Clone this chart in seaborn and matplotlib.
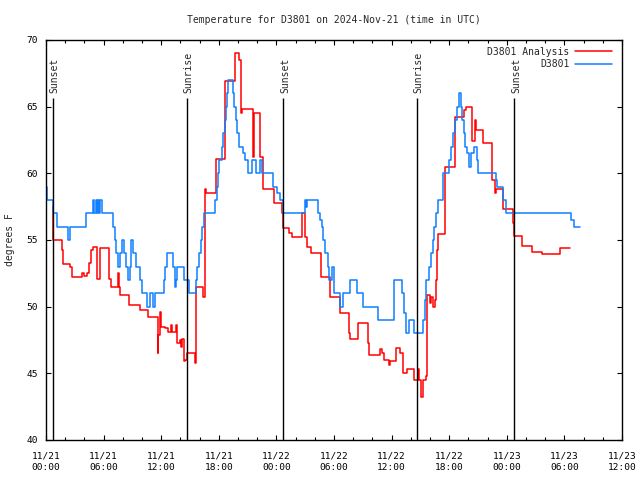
import matplotlib
matplotlib.use("Agg")
import matplotlib.pyplot as plt
import seaborn as sns
import pandas as pd

# ---------------- data (hours since 2024-11-21 00:00 UTC) ----------------
analysis_t = [0.69, 0.72, 1.63, 1.74, 2.5, 2.74, 3.72, 4.0, 4.3, 4.51, 4.69, 4.86, 5.28, 5.63,
              6.55, 6.74, 7.5, 7.6, 7.71, 8.68, 9.79, 10.66, 11.63, 11.7, 11.9, 11.98, 12.4,
              12.74, 13.0, 13.1, 13.5, 13.6, 13.68, 13.96, 14.1, 14.2, 14.37, 14.48, 14.72,
              15.52, 15.63, 16.39, 16.56, 16.67, 17.67, 18.65, 19.69, 20.14, 20.3, 20.38,
              21.53, 21.65, 22.29, 22.64, 23.8, 24.55, 24.68, 25.35, 25.6, 26.63, 27.0,
              27.15, 27.62, 28.65, 29.55, 30.66, 31.55, 31.65, 32.55, 33.5, 33.65, 34.75,
              35.05, 35.25, 35.7, 35.8, 36.5, 36.9, 37.2, 37.6, 38.3, 38.7, 38.9, 39.1, 39.3,
              39.55, 39.65, 40.0, 40.1, 40.3, 40.5, 40.6, 40.69, 40.8, 41.53, 42.56, 43.55,
              43.75, 44.4, 44.7, 44.82, 45.5, 46.5, 46.72, 46.85, 47.65, 48.65, 48.72, 49.6,
              50.65, 51.7, 53.55, 54.6]
analysis_v = [57.5, 55.0, 54.25, 53.2, 53.0, 52.25, 52.5, 52.3, 52.5, 53.3, 54.25, 54.5, 52.1, 54.4,
              52.1, 51.45, 52.5, 51.45, 50.9, 50.1, 49.75, 49.2, 46.55, 47.9, 49.6, 48.5, 48.4,
              48.1, 48.6, 48.1, 48.6, 48.1, 47.25, 47.5, 47.0, 47.6, 45.9, 46.0, 46.55,
              45.8, 51.5, 50.75, 58.8, 58.5, 61.05, 66.9, 69.05, 68.5, 64.5, 64.8,
              61.25, 64.55, 61.2, 58.8, 57.75, 57.0, 55.9, 55.5, 55.25, 57.0, 55.2,
              54.45, 54.0, 52.2, 50.7, 49.5, 48.0, 47.6, 48.8, 47.25, 46.35, 46.85,
              46.5, 46.0, 45.6, 45.9, 46.9, 46.5, 45.0, 45.3, 44.5, 45.3, 44.5, 43.25, 44.5,
              44.8, 50.9, 50.3, 50.75, 50.0, 50.5, 52.0, 54.25, 55.45, 60.45, 64.25, 64.75,
              65.0, 62.4, 64.0, 63.25, 62.25, 59.5, 58.5, 58.8, 57.3, 56.25, 55.3, 54.55,
              54.1, 53.95, 54.4, 54.4]

station_t = [0.0, 0.14, 0.76, 1.11, 2.33, 2.5, 4.17, 4.93, 5.05, 5.2, 5.3, 5.4, 5.5, 5.63, 5.85,
             6.97, 7.15, 7.3, 7.5, 7.7, 7.95, 8.15, 8.35, 8.55, 8.7, 8.85, 9.1, 9.35, 9.75,
             9.97, 10.56, 10.8, 11.1, 11.35, 12.26, 12.4, 12.6, 13.22, 13.4, 13.55, 13.68,
             14.4, 14.9, 15.65, 15.75, 15.9, 16.1, 16.3, 16.5, 17.65, 17.8, 17.9, 18.05,
             18.3, 18.45, 18.6, 18.7, 18.85, 19.0, 19.45, 19.6, 19.75, 19.9, 20.1, 20.55,
             20.75, 21.05, 21.5, 21.85, 22.33, 22.5, 23.65, 24.1, 24.35, 24.72, 26.98, 27.1,
             27.2, 28.3, 28.5, 28.7, 28.9, 29.05, 29.4, 29.5, 29.75, 30.05, 30.6, 30.95,
             31.7, 32.4, 33.0, 34.62, 36.3, 37.1, 37.3, 37.5, 37.85, 38.3, 39.3, 39.5, 39.62,
             39.9, 40.1, 40.3, 40.45, 40.6, 40.8, 41.4, 41.95, 42.2, 42.4, 42.65, 42.85,
             43.0, 43.25, 43.35, 43.5, 43.65, 43.85, 44.05, 44.25, 44.55, 44.9, 45.05,
             46.85, 47.0, 47.65, 47.95, 54.7, 55.0, 55.6]
station_v = [59, 58, 57, 56, 55, 56, 57, 58, 57, 58, 57, 58, 57, 58, 57,
             56, 55, 54, 53, 54, 55, 54, 53, 52, 53, 55, 54, 53, 52,
             51, 50, 51, 50, 51, 52, 53, 54, 53, 51.5, 52, 53,
             52, 51, 52, 53, 54, 55, 56, 57, 58, 59, 60, 61,
             62, 63, 64, 65, 66, 67, 66, 65, 64, 63, 62, 61.5,
             61, 60, 61, 60, 61, 60, 59, 58.5, 58, 57, 58, 57.5,
             58, 57, 56.5, 56, 55, 54, 53, 52, 53, 51, 50, 51,
             52, 51, 50, 49, 52, 51, 49.5, 48, 49, 48, 49, 50.5, 52,
             53, 54, 55, 56, 57, 58, 60, 61, 62, 63, 64, 65,
             66, 65, 64, 63, 62, 61.5, 60.5, 61.5, 62, 61, 60,
             59.5, 59, 58, 57, 56.5, 56, 56]

event_t = [0.70, 14.66, 24.70, 38.60, 48.75]
event_labels = ["Sunset", "Sunrise", "Sunset", "Sunrise", "Sunset"]

xtick_pos = [0, 6, 12, 18, 24, 30, 36, 42, 48, 54, 60]
xtick_labels = ["11/21\n00:00", "11/21\n06:00", "11/21\n12:00", "11/21\n18:00",
                "11/22\n00:00", "11/22\n06:00", "11/22\n12:00", "11/22\n18:00",
                "11/23\n00:00", "11/23\n06:00", "11/23\n12:00"]
ytick_pos = [40, 45, 50, 55, 60, 65, 70]

title = "Temperature for D3801 on 2024-Nov-21 (time in UTC)"

# ---------------- plot ----------------
sns.set_style("ticks")
plt.rcParams["font.family"] = ["DejaVu Sans Mono", "DejaVu Sans"]

fig = plt.figure(figsize=(6.4, 4.8), dpi=100)
ax = fig.add_axes([46 / 640, 40 / 480, 576 / 640, 400 / 480])

df_a = pd.DataFrame({"t": analysis_t, "v": analysis_v})
df_s = pd.DataFrame({"t": station_t, "v": station_v})

sns.lineplot(data=df_a, x="t", y="v", ax=ax, color="#ff0000", lw=1.1,
             drawstyle="steps-post", estimator=None, label="D3801 Analysis")
sns.lineplot(data=df_s, x="t", y="v", ax=ax, color="#1080ff", lw=1.1,
             drawstyle="steps-post", estimator=None, label="D3801")

ax.vlines(event_t, 40, 65.65, colors="black", lw=1.0)
for t, lbl in zip(event_t, event_labels):
    ax.text(t + 0.2, 66.05, lbl, rotation=90, ha="center", va="bottom", fontsize=7)

ax.set_xlim(0, 60)
ax.set_ylim(40, 70)
ax.set_xticks(xtick_pos)
ax.set_xticklabels(xtick_labels, fontsize=6.8)
for l in ax.get_xticklabels():
    l.set_linespacing(1.45)
ax.set_xticks(range(0, 61, 2), minor=True)
ax.set_yticks(ytick_pos)
ax.set_yticklabels([str(v) for v in ytick_pos], fontsize=6.8)
ax.tick_params(axis="both", which="both", direction="in", top=True, right=True,
               colors="black", width=0.8)
ax.tick_params(axis="both", which="major", length=3.6)
ax.tick_params(axis="both", which="minor", length=2.2)
ax.tick_params(axis="x", which="major", pad=8)
ax.tick_params(axis="y", which="major", pad=6)
for s in ax.spines.values():
    s.set_visible(True)
    s.set_color("black")
    s.set_linewidth(1.0)

ax.set_xlabel("")
ax.set_ylabel("degrees F", fontsize=7, labelpad=8)
ax.set_title(title, fontsize=7, pad=12)

leg = ax.legend(loc="upper right", frameon=False, markerfirst=False, fontsize=7,
                handlelength=3.8, handletextpad=0.6, labelspacing=0.25,
                borderaxespad=0.3, bbox_to_anchor=(0.995, 1.0))

fig.savefig("out.png", dpi=100)
